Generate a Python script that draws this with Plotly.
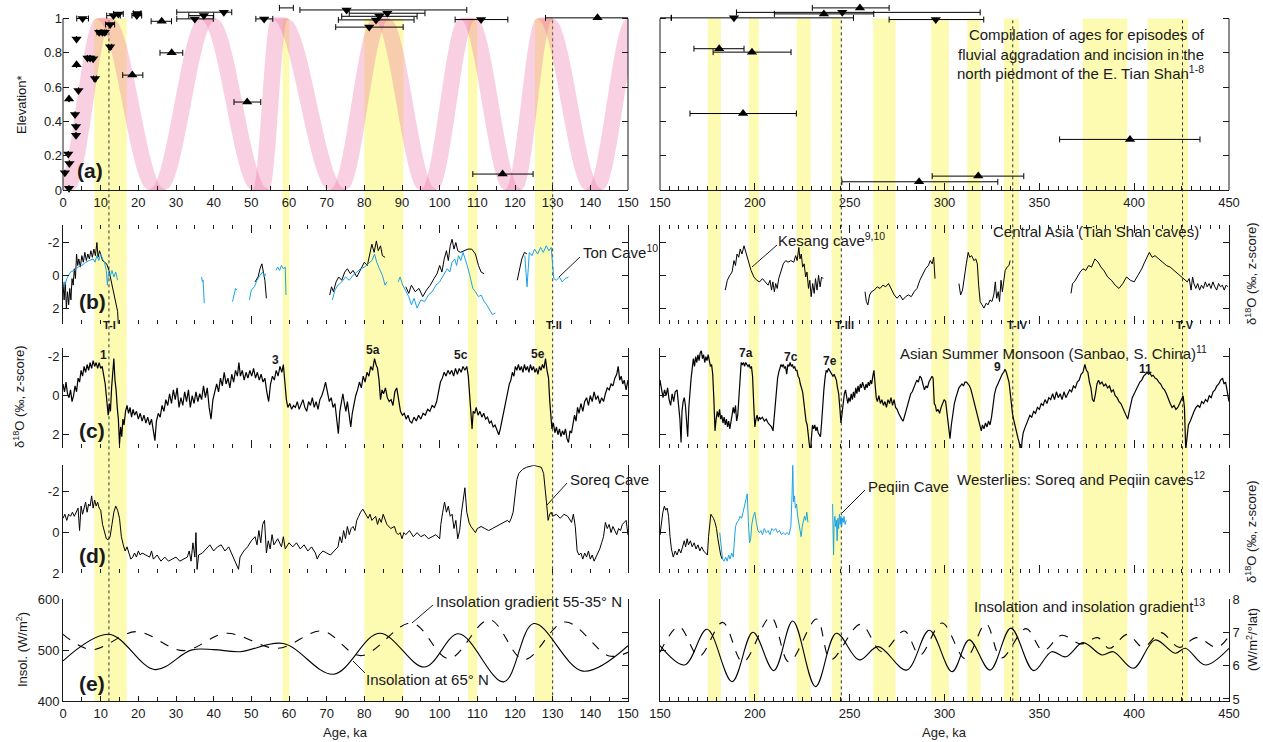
import plotly.graph_objects as go

W, H = 1263, 742
FONT = "Liberation Sans, Arial, Helvetica, sans-serif"
INK = "#1a1a1a"
BLUE = "#1da1e6"
YELLOW = "rgb(253,251,178)"
PINK = "rgba(236,112,165,0.33)"

COL_PX = [(63, 628), (660, 1229)]
ROW_PX = [(3.1, 190.0), (224.5, 323.7), (347.9, 448.0), (465.3, 573.4), (599.0, 701.3)]
X_RANGES = [(0, 150), (150, 450)]
Y_RANGES = [(0, 1.09), (2.95, -3.1), (2.68, -2.45), (2.0, -3.3), (400, 600)]
GRADIENT_RANGE = (4.93, 8)

# ---------------- data ----------------
YELLOW_LEFT = [(8.3, 16.9), (58.3, 60.1), (80.0, 90.4), (107.5, 110.0), (125.3, 130.1)]
YELLOW_RIGHT = [(175.2, 182.1), (196.8, 202.1), (222.0, 229.4), (240.5, 245.6), (262.4, 274.2),
                (293.0, 302.3), (312.0, 319.0), (331.3, 339.3), (372.9, 396.4), (407.0, 428.4)]
TERMINATIONS_LEFT = [12.2, 130.0]
TERMINATIONS_RIGHT = [245.6, 336.0, 425.5]

BAND_TURNING_AGES = [0.5, 11, 25, 38.5, 52.5, 57.5, 73, 84.5, 97, 107.5, 119.5, 128, 141, 152]
BAND_TURNING_ELEV = [0, 1, 0, 1, 0, 1, 0, 1, 0, 1, 0, 1, 0, 1]
BAND_PROFILE = [0, 0.024, 0.095, 0.206, 0.345, 0.5, 0.655, 0.794, 0.905, 0.976, 1.0]
BAND_HALF_WIDTH = 2.2

# (age, elevation, err_minus, err_plus)
AGES_INCISION = [(0.5, 0.10, 0, 0), (1.6, 0.01, 0, 0), (1.4, 0.21, 0, 0), (1.7, 0.155, 0, 0), (3.2, 0.44, 0, 0),
                 (3.45, 0.37, 0, 0), (3.45, 0.32, 0, 0), (4.1, 0.58, 0, 0), (3.6, 0.88, 0, 0), (5.2, 1.0, 1.55, 1.55),
                 (6.5, 0.77, 0, 0), (7.2, 0.77, 0, 0), (8.0, 0.765, 0, 0), (8.5, 0.65, 0.4, 0.4), (9.6, 0.92, 0.6, 0.6),
                 (10.5, 0.92, 0.6, 0.6), (11.1, 0.92, 0.5, 0.5), (12.5, 0.965, 1.2, 1.2), (12.5, 0.835, 0.4, 0.4),
                 (13.4, 1.017, 1.8, 1.8), (14.7, 1.027, 1.3, 1.3), (19.6, 1.017, 1.3, 1.3), (19.7, 1.03, 1.0, 1.0),
                 (35.0, 0.998, 4.8, 4.9), (37.4, 1.017, 4.0, 2.6), (42.7, 1.037, 12.5, 2.1), (53.4, 0.998, 2.2, 2.3),
                 (75.3, 1.05, 12.4, 31.9), (86.1, 1.031, 10.1, 10.0), (84.0, 1.013, 10.0, 10.0), (83.1, 0.992, 10.0, 10.1),
                 (81.3, 0.95, 8.9, 9.0), (111.0, 0.994, 6.9, 7.1), (189.0, 1.004, 33.0, 63.0), (246.1, 1.036, 55.8, 72.7),
                 (295.4, 0.994, 24.6, 25.3)]
AGES_AGGRADATION = [(1.6, 0.53, 0, 0), (3.6, 0.73, 0, 0), (18.4, 0.67, 2.55, 2.8), (26.2, 0.984, 2.8, 2.6),
                    (28.85, 0.80, 3.1, 2.95), (48.9, 0.513, 3.5, 3.6), (116.7, 0.093, 7.9, 8.1), (141.9, 1.004, 13.8, 14.0),
                    (181.2, 0.824, 13.3, 13.1), (198.5, 0.804, 20.5, 20.6), (193.8, 0.446, 28.0, 28.1),
                    (236.4, 1.027, 26.1, 26.3), (255.4, 1.062, 25.1, 15.4), (397.8, 0.295, 37.1, 36.9),
                    (317.8, 0.081, 24.3, 24.0), (286.6, 0.048, 40.7, 41.5)]
AGES_UNMARKED = [(59.3, 1.062, 1.85, 1.85)]

# (b) Tian Shan caves
TIANSHAN_BLACK = [(0.0, 0.5), (0.3, 1.5), (0.6, 0.4), (0.9, 2.0), (1.2, 1.0), (1.5, 1.8), (1.8, 0.8), (2.1, 1.5), (2.4, 0.2),
    (2.7, 0.6), (3.0, -0.4), (3.3, 0.2), (3.6, -1.3), (3.9, -0.6), (4.2, -1.0), (4.6, -0.5), (5.0, -1.2), (5.4, -0.8),
    (5.8, -1.4), (6.2, -0.9), (6.6, -1.3), (7.0, -1.0), (7.4, -1.5), (7.8, -1.1), (8.2, -1.6), (8.6, -1.2), (9.0, -2.0),
    (9.3, -1.1), (9.7, -1.5), (10.1, -1.2), (10.5, -0.9), (11.0, -0.8), (11.6, -0.7), (12.2, -0.3), (12.8, 0.4),
    (13.5, 1.1), (14.2, 1.9), (14.5, 2.2), (14.8, 3.5), None,
    (51.0, 0.4), (51.8, 0.1), (52.3, -0.4), (52.8, -0.7), (53.2, -0.2), (53.6, 0.3), (54.0, 1.4), None,
    (70.8, 1.2), (71.3, 0.7), (71.8, 1.0), (72.5, 0.4), (73.2, 0.1), (74.0, 0.3), (74.8, -0.2), (75.5, -0.4), (76.3, -0.1),
    (77.0, -0.3), (78.0, 0.1), (79.0, -0.4), (80.0, -0.8), (80.8, -0.6), (81.5, -1.3), (82.0, -1.9), (82.6, -1.4),
    (83.2, -2.1), (83.7, -1.5), (84.3, -1.8), (84.8, -1.2), (85.5, -1.1), None,
    (91.0, 0.7), (91.8, 1.1), (92.5, 0.6), (93.5, 1.0), (94.5, 0.8), (95.5, 1.3), (96.5, 0.9), (97.5, 0.6), (98.5, 0.2),
    (99.3, -0.1), (100.0, -0.6), (100.6, -0.2), (101.2, -1.0), (101.8, -1.5), (102.3, -0.9), (102.8, -1.8), (103.3, -2.2),
    (103.8, -1.6), (104.3, -2.0), (104.8, -1.5), (105.5, -1.4), (106.5, -1.5), (107.5, -1.6), (108.5, -1.6), (109.5, -1.3),
    (110.3, -0.6), (111.0, -0.2), (111.8, -0.1), None,
    (120.6, 0.3), (121.2, -0.4), (121.8, -1.0), (122.5, -1.4), (123.2, -1.3), None,
    (184.4, 0.9), (185.5, 0.3), (186.8, 0.0), (188.0, -0.2), (189.0, -0.9), (189.8, -0.6), (190.6, -1.3), (191.5, -1.1),
    (192.3, -1.6), (193.2, -1.3), (194.3, -1.8), (195.2, -1.4), (196.5, -0.8), (198.0, -0.3), (199.5, 0.1), (201.0, 0.3),
    (202.5, 0.4), (204.0, 0.2), (205.5, 0.4), (207.0, 0.6), (208.0, 0.3), (208.8, 0.9), (209.5, 0.4), (210.3, 1.0),
    (211.0, 0.5), (211.8, 0.8), (212.6, 0.2), (213.8, -0.3), (215.0, -0.7), (216.3, -0.9), (217.5, -0.8), (219.0, -0.9),
    (220.5, -0.8), (221.5, -1.2), (222.3, -0.9), (223.2, -1.7), (223.8, -1.0), (224.5, -1.3), (225.2, -0.5), (226.0, -0.7),
    (226.8, 0.1), (227.5, -0.2), (228.3, 0.8), (229.0, 0.3), (229.7, 1.3), (230.5, 0.5), (231.3, 1.1), (232.0, 0.2),
    (232.8, 0.9), (233.6, 0.0), (234.4, 0.7), (235.2, 0.1), (236.0, 0.2), None,
    (258.1, 1.0), (258.8, 1.6), (259.6, 1.8), (260.5, 1.2), (261.5, 1.0), (263.0, 0.9), (264.5, 0.7), (266.0, 0.8),
    (267.5, 0.6), (269.0, 0.7), (270.5, 0.5), (272.0, 0.9), (273.5, 1.2), (275.0, 1.4), (276.5, 1.2), (278.0, 1.5),
    (279.5, 1.3), (281.0, 1.2), (282.5, 1.3), (284.0, 1.0), (285.5, 0.8), (287.0, 0.3), (288.5, -0.1), (290.0, -0.4),
    (291.5, -0.6), (292.5, -0.9), (293.5, -0.7), (294.3, -1.1), (295.0, 0.2), None,
    (307.6, 0.5), (308.5, 1.2), (309.5, 0.9), (310.5, 0.0), (311.5, -0.7), (312.5, -1.4), (313.3, -1.1), (314.3, -1.2),
    (315.5, -0.9), (316.5, -1.0), (317.3, -0.7), (318.0, 0.6), (318.8, 1.6), (319.8, 1.8), (320.8, 2.0), (322.0, 1.7),
    (323.0, 1.8), (324.0, 1.5), (325.0, 1.6), (326.0, 1.2), (326.8, 0.4), (327.5, 1.4), (328.3, 1.0), (329.0, 1.6),
    (329.8, 0.3), (330.5, 1.0), (331.3, 0.1), (332.0, -0.3), (333.0, -0.5), (334.0, -0.6), (334.6, -0.9), None,
    (366.7, 1.1), (367.5, 0.5), (368.5, 0.4), (370.0, 0.1), (371.5, -0.2), (373.0, -0.4), (374.5, -0.3), (376.0, -0.6),
    (377.5, -0.5), (379.3, -1.0), (381.0, -0.8), (382.5, -0.5), (384.0, -0.3), (386.0, 0.1), (388.0, 0.3), (390.0, 0.6),
    (392.0, 0.8), (394.0, 0.5), (396.0, 0.1), (398.0, 0.3), (400.0, 0.4), (402.0, 0.0), (404.0, -0.4), (405.5, -0.8),
    (407.0, -1.2), (408.0, -1.4), (409.5, -1.1), (411.0, -1.2), (413.0, -1.0), (415.0, -0.8), (417.0, -0.6), (419.0, -0.5),
    (421.0, -0.3), (423.0, -0.1), (425.0, 0.1), (426.5, 0.2), (428.0, 0.4), (429.0, 0.2), (430.0, 0.9), (430.8, 0.1),
    (431.5, 0.5), (432.5, 0.8), (433.5, 0.5), (434.5, 0.9), (435.5, 0.6), (436.5, 0.8), (437.5, 0.4), (438.5, 0.7),
    (439.5, 0.5), (440.5, 0.8), (441.5, 0.4), (442.5, 0.7), (443.5, 0.9), (444.5, 0.5), (445.5, 0.7), (446.5, 0.6),
    (447.5, 0.9), (448.5, 0.6), (449.5, 0.7)]
TON_CAVE = [(0.0, 0.4), (0.5, 0.6), (1.0, 0.2), (1.5, 0.0), (2.0, -0.2), (3.0, -0.3), (4.0, -0.5), (5.0, -0.6), (6.0, -0.8),
    (7.0, -0.9), (8.0, -1.0), (8.5, -0.8), (9.0, -1.2), (9.5, -0.9), (10.0, -1.3), (10.5, -1.0), (11.0, -0.8), (11.5, -0.3),
    (11.8, 0.6), (12.1, -0.2), (12.6, 0.0), (13.0, -0.3), (13.5, 0.1), (14.0, -0.2), (14.5, 0.3), None,
    (36.8, 0.1), (37.0, 0.4), (37.2, 0.3), (37.5, 1.7), None,
    (45.0, 1.6), (45.4, 1.1), (45.8, 0.8), (46.2, 0.9), None,
    (49.5, 1.5), (50.0, 0.9), (50.8, 0.7), (51.5, 0.3), (52.3, 0.0), (53.0, -0.2), (53.5, 0.1), (53.8, -0.1), None,
    (56.5, -0.3), (57.0, -0.5), (57.5, -0.3), (58.0, -0.6), (58.5, -0.4), (59.0, -0.5), (59.2, 1.2), None,
    (71.5, 1.5), (72.2, 0.9), (73.0, 0.6), (74.0, 0.4), (75.0, 0.1), (76.0, 0.3), (77.0, 0.0), (78.0, -0.2), (79.0, -0.4),
    (80.0, -0.5), (81.0, -0.7), (82.0, -0.9), (82.7, -1.3), (83.3, -0.8), (84.0, -0.4), (84.8, 0.0), (85.5, 0.6),
    (86.0, 0.4), None,
    (89.0, 0.4), (89.5, 0.1), (90.2, 0.6), (91.0, 1.0), (91.8, 1.3), (92.5, 1.8), (93.2, 1.4), (94.0, 2.0), (95.0, 1.5),
    (96.0, 1.6), (97.0, 1.2), (98.0, 1.0), (99.0, 0.6), (100.0, 0.4), (101.0, 0.0), (102.0, -0.4), (102.7, -0.2),
    (103.3, -0.8), (104.0, -1.0), (104.5, -0.6), (105.0, -1.2), (105.6, -0.9), (106.2, -1.4), (106.8, -1.0), (107.3, -0.6),
    (108.0, 0.0), (108.8, 0.8), (109.5, 1.0), (110.3, 1.3), (111.0, 1.2), (111.8, 1.6), (112.5, 1.8), (113.3, 2.1),
    (114.0, 2.4), (114.8, 2.3), None,
    (122.6, -1.2), (123.2, 0.7), (123.8, -1.4), (124.5, -1.2), (125.2, -1.6), (126.0, -1.3), (126.8, -1.7), (127.5, -1.4),
    (128.3, -1.8), (129.0, -1.5), (129.6, -1.7), (130.0, -0.8), (130.3, 0.2), (131.0, 0.3), (131.8, 0.1), (132.5, 0.4),
    (133.3, 0.2), (134.2, 0.1)]

# (c) Sanbao cave
SANBAO = [(0.0, -0.6), (0.4, -0.2), (0.8, -0.7), (1.2, -0.1), (1.6, 0.1), (2.0, -0.3), (2.4, 0.3), (2.8, 0.0), (3.2, -0.5),
    (3.6, -0.2), (4.0, -0.9), (4.4, -0.7), (4.8, -1.3), (5.2, -1.0), (5.6, -1.5), (6.0, -1.2), (6.4, -1.6), (6.8, -1.3),
    (7.2, -1.7), (7.6, -1.4), (8.0, -1.8), (8.4, -1.5), (8.8, -1.7), (9.2, -1.4), (9.6, -1.7), (10.0, -1.4), (10.4, -1.5),
    (10.8, -1.0), (11.2, -0.6), (11.6, 0.2), (12.0, 1.0), (12.3, 0.4), (12.6, 0.8), (12.9, -0.4), (13.2, -1.0), (13.5, -1.9),
    (13.8, -0.8), (14.1, -0.3), (14.4, 0.6), (14.7, 1.2), (15.0, 2.5), (15.3, 1.6), (15.6, 2.1), (15.9, 1.2), (16.2, 1.5),
    (16.6, 0.8), (17.0, 0.5), (17.4, 0.9), (17.8, 0.6), (18.2, 1.1), (18.6, 0.7), (19.0, 1.0), (19.5, 0.8), (20.0, 1.2),
    (20.5, 0.9), (21.0, 1.3), (21.5, 1.0), (22.0, 1.4), (22.5, 1.1), (23.0, 1.5), (23.5, 1.2), (24.0, 1.7), (24.4, 2.3),
    (24.8, 1.3), (25.3, 0.9), (25.8, 1.1), (26.3, 0.5), (26.8, 0.8), (27.3, 0.2), (27.8, 0.5), (28.3, -0.1), (28.8, 0.4),
    (29.3, -0.3), (29.8, 0.2), (30.3, -0.4), (30.8, 0.6), (31.3, 0.1), (31.8, 0.5), (32.3, -0.2), (32.8, 0.3), (33.3, -0.3),
    (33.8, 0.6), (34.3, 0.0), (34.8, 0.4), (35.3, -0.2), (35.8, 0.3), (36.3, -0.1), (36.8, 0.2), (37.3, -0.5), (37.8, 0.1),
    (38.3, -0.4), (38.8, 0.6), (39.3, 1.2), (39.8, 0.2), (40.3, -0.3), (40.8, -0.6), (41.3, -0.2), (41.8, -0.9), (42.3, -0.5),
    (42.8, -1.2), (43.3, -0.6), (43.8, -0.9), (44.3, -0.4), (44.8, -1.1), (45.3, -0.7), (45.8, -1.3), (46.3, -1.0),
    (46.7, -1.7), (47.1, -1.0), (47.6, -1.3), (48.1, -0.8), (48.6, -1.2), (49.1, -0.9), (49.6, -1.3), (50.1, -1.0),
    (50.6, -1.4), (51.1, -0.9), (51.6, -1.2), (52.1, -0.8), (52.6, -1.1), (53.1, -0.7), (53.6, -0.9), (54.1, -0.2),
    (54.6, 0.3), (55.1, -0.6), (55.6, -1.0), (56.1, -0.8), (56.6, -1.3), (57.1, -1.0), (57.6, -1.5), (58.1, -1.2),
    (58.5, -1.6), (58.9, -0.7), (59.3, 0.2), (59.7, 0.6), (60.2, 0.4), (60.7, 0.7), (61.2, 0.5), (61.7, 0.6), (62.2, 0.3),
    (62.7, 0.7), (63.2, 0.4), (63.7, 0.2), (64.2, 0.6), (64.7, 0.8), (65.2, 0.3), (65.7, 0.5), (66.2, 0.1), (66.7, 0.6),
    (67.2, 0.3), (67.7, 0.7), (68.2, 0.2), (68.7, 0.0), (69.2, -0.3), (69.7, -0.7), (70.2, -0.2), (70.7, 0.3), (71.2, 0.1),
    (71.7, 0.6), (72.2, 0.4), (72.7, 1.2), (73.1, 1.95), (73.5, 0.8), (73.9, 0.3), (74.3, -0.1), (74.7, 0.4), (75.1, 0.8),
    (75.5, 0.3), (76.0, 1.0), (76.4, 1.6), (76.8, 0.9), (77.2, 0.4), (77.7, 0.0), (78.2, -0.3), (78.7, -0.7), (79.2, -0.4),
    (79.7, -1.0), (80.2, -0.7), (80.7, -1.2), (81.2, -1.0), (81.7, -1.5), (82.2, -1.3), (82.7, -1.9), (83.1, -1.6),
    (83.5, -1.4), (83.9, -0.8), (84.3, 0.2), (84.7, -0.3), (85.1, -0.1), (85.6, -0.4), (86.1, 0.1), (86.6, 0.3), (87.1, 0.2),
    (87.6, 0.5), (88.1, -0.2), (88.6, -0.4), (89.1, 0.2), (89.6, 0.8), (90.1, 1.0), (90.6, 0.9), (91.1, 1.2), (91.6, 1.0),
    (92.1, 1.3), (92.6, 1.4), (93.2, 1.1), (93.8, 1.3), (94.4, 1.0), (95.0, 1.2), (95.6, 0.9), (96.2, 1.0), (96.8, 0.7),
    (97.4, 0.8), (98.0, 0.5), (98.6, 0.6), (99.2, 0.3), (99.7, -0.2), (100.2, -0.7), (100.7, -0.9), (101.2, -1.2),
    (101.7, -1.0), (102.2, -1.3), (102.7, -1.1), (103.2, -1.3), (103.7, -1.0), (104.2, -1.4), (104.7, -1.1), (105.2, -1.4),
    (105.7, -1.2), (106.2, -1.5), (106.7, -1.3), (107.2, -1.5), (107.6, -1.0), (108.0, 0.3), (108.3, 0.7), (108.6, 1.7),
    (108.9, 0.8), (109.3, 0.9), (109.7, 0.6), (110.2, 1.0), (110.7, 0.8), (111.2, 1.1), (111.7, 0.9), (112.2, 1.2),
    (112.7, 1.1), (113.2, 1.4), (113.7, 1.3), (114.2, 1.6), (114.7, 1.5), (115.2, 1.8), (115.7, 2.0), (116.1, 1.7),
    (116.5, 1.3), (116.9, 1.0), (117.3, 0.5), (117.7, 0.1), (118.1, -0.2), (118.5, -0.6), (118.9, -0.8), (119.3, -1.2),
    (119.7, -1.0), (120.1, -1.5), (120.5, -1.3), (120.9, -1.6), (121.3, -1.3), (121.7, -1.5), (122.1, -1.2), (122.5, -1.6),
    (122.9, -1.3), (123.3, -1.5), (123.7, -1.2), (124.1, -1.6), (124.5, -1.3), (124.9, -1.5), (125.3, -1.2), (125.7, -1.4),
    (126.1, -1.1), (126.5, -1.5), (126.9, -1.3), (127.3, -1.6), (127.7, -1.4), (128.1, -1.9), (128.5, -1.3), (128.9, -0.9),
    (129.2, 0.2), (129.5, 1.3), (129.8, 1.7), (130.2, 1.4), (130.6, 1.9), (131.0, 1.6), (131.4, 2.0), (131.8, 1.7),
    (132.2, 2.1), (132.6, 1.8), (133.0, 2.0), (133.4, 1.7), (133.8, 2.2), (134.2, 2.4), (134.6, 1.8), (135.0, 1.9),
    (135.4, 1.3), (135.8, 1.0), (136.2, 1.3), (136.6, 0.6), (137.0, 0.9), (137.5, 0.4), (138.0, 0.8), (138.5, 0.3),
    (139.0, 0.1), (139.5, 0.5), (140.0, 0.0), (140.5, 0.3), (141.0, -0.2), (141.5, 0.2), (142.0, 0.0), (142.5, 0.4),
    (143.0, 0.1), (143.5, 0.3), (144.0, -0.1), (144.5, -0.4), (145.0, -0.3), (145.5, -0.6), (146.0, -0.5), (146.5, -0.9),
    (147.0, -1.1), (147.4, -1.5), (147.8, -0.8), (148.2, -1.0), (148.6, -0.6), (149.0, -0.8), (149.5, -0.3), (150.0, -0.8),
    (150.8, -0.2), (151.6, 0.1), (152.4, -0.3), (153.2, 0.0), (154.0, -0.4), (154.8, 0.2), (155.6, 0.5), (156.4, -0.1),
    (157.2, 0.3), (158.0, -0.2), (159.0, -0.3), (159.8, 0.6), (160.5, 1.2), (161.1, 2.4), (161.6, 0.8), (162.2, 0.3),
    (162.8, 0.1), (163.4, 0.5), (164.0, 1.3), (164.6, 2.1), (165.2, 0.6), (165.8, -0.4), (166.4, -0.9), (167.0, -1.4),
    (167.6, -1.9), (168.2, -1.5), (168.8, -2.0), (169.4, -1.7), (170.0, -2.1), (170.6, -1.8), (171.2, -2.2), (171.8, -2.3),
    (172.4, -1.9), (173.0, -2.1), (173.6, -1.7), (174.2, -2.0), (174.8, -1.8), (175.4, -2.1), (176.0, -1.7), (176.6, -1.5),
    (177.2, -1.6), (177.8, -1.1), (178.4, 0.2), (179.0, 1.8), (179.6, 1.2), (180.2, 0.8), (180.8, 1.1), (181.4, 0.7),
    (182.0, 1.2), (182.6, 1.0), (183.2, 1.4), (183.8, 1.1), (184.4, 1.5), (185.0, 1.2), (185.6, 1.6), (186.2, 1.3),
    (186.8, 1.7), (187.4, 1.4), (188.0, 1.0), (188.6, 0.6), (189.2, 0.9), (189.8, 0.5), (190.4, 1.3), (191.0, 1.0),
    (191.6, 0.2), (192.2, -1.0), (192.8, -1.7), (193.4, -1.6), (194.0, -1.7), (194.6, -1.5), (195.2, -1.7), (195.8, -1.6),
    (196.4, -1.5), (197.0, -1.6), (197.6, -1.4), (198.2, -1.5), (198.8, -1.0), (199.4, 0.4), (200.0, 1.6), (200.6, 1.2),
    (201.2, 1.0), (201.8, 1.3), (202.4, 1.1), (203.0, 1.2), (204.0, 1.1), (205.0, 1.3), (206.0, 1.2), (207.0, 1.4),
    (208.0, 1.5), (208.8, 1.6), (209.6, 1.8), (210.2, 1.0), (210.8, 0.2), (211.4, -0.4), (212.0, -0.9), (212.6, -1.2),
    (213.2, -1.5), (213.8, -1.6), (214.4, -1.5), (215.0, -1.6), (215.6, -1.4), (216.2, -1.5), (216.8, -1.1), (217.4, -1.6),
    (218.0, -1.5), (218.6, -1.7), (219.2, -1.5), (219.8, -1.6), (220.4, -1.4), (221.0, -1.5), (221.6, -1.3), (222.2, -1.3),
    (222.8, -1.0), (223.4, -0.9), (224.0, -0.6), (224.6, -0.4), (225.2, -0.2), (225.8, 0.3), (226.4, 0.9), (227.0, 1.3),
    (227.6, 1.5), (228.2, 2.0), (228.8, 2.7), (229.3, 3.0), (229.8, 2.2), (230.4, 1.5), (231.0, 1.7), (231.6, 1.5),
    (232.2, 1.8), (232.8, 1.6), (233.4, 1.9), (234.0, 2.0), (234.6, 2.1), (235.2, 1.4), (235.8, 0.4), (236.4, -0.3),
    (237.0, -0.9), (237.6, -1.3), (238.2, -1.2), (238.8, -1.4), (239.4, -1.3), (240.0, -1.2), (240.6, -1.1), (241.2, -1.0),
    (241.8, -1.1), (242.4, -0.9), (243.0, -0.8), (243.6, -0.4), (244.2, -0.1), (244.8, 0.6), (245.4, 1.4), (246.0, 0.9),
    (246.6, 0.2), (247.2, -0.1), (247.8, -0.3), (248.4, 0.2), (249.0, 0.4), (249.6, 0.1), (250.2, 0.3), (250.8, -0.1),
    (251.4, 0.2), (252.0, -0.2), (252.6, 0.1), (253.2, -0.4), (253.8, -0.1), (254.4, -0.5), (255.0, -0.2), (255.6, -0.6),
    (256.2, -0.4), (256.8, -0.7), (257.4, -0.5), (258.0, -0.3), (258.6, -0.6), (259.2, -0.4), (259.8, -0.7), (260.4, -0.5),
    (261.0, -0.8), (261.6, -0.6), (262.2, -1.0), (262.8, -1.3), (263.4, -0.6), (264.0, 0.1), (264.6, 0.3), (265.4, 0.0),
    (266.2, 0.4), (267.0, 0.2), (267.8, 0.5), (268.6, 0.3), (269.4, 0.6), (270.2, 0.2), (271.0, 0.4), (271.8, 0.1),
    (272.6, 0.5), (273.4, 0.2), (274.2, 0.6), (275.0, 0.7), (275.8, 0.9), (276.6, 1.1), (277.4, 1.2), (278.2, 1.3),
    (279.0, 1.0), (279.8, 0.7), (280.6, 0.5), (281.4, 0.2), (282.2, -0.1), (283.0, -0.2), (283.8, -0.4), (284.6, -0.6),
    (285.4, -0.8), (286.2, -0.7), (287.0, -1.0), (287.8, -0.9), (288.6, -0.6), (289.4, -0.3), (290.2, -0.5), (291.0, -0.4),
    (291.8, -0.7), (292.6, -0.9), (293.4, -1.0), (294.0, -0.9), (294.6, 0.4), (295.2, 0.5), (295.8, 0.8), (296.6, 0.7),
    (297.4, 0.9), (298.2, 0.6), (299.0, 0.4), (299.8, 0.2), (300.6, 0.3), (301.4, 0.9), (302.2, 1.6), (302.9, 2.2),
    (303.6, 1.5), (304.4, 0.8), (305.2, 0.4), (306.0, 0.1), (306.8, -0.2), (307.6, -0.4), (308.4, -0.5), (309.2, -0.6),
    (310.0, -0.5), (310.8, -0.7), (311.6, -0.7), (312.4, -0.6), (313.2, -0.5), (314.0, -0.3), (314.8, 0.0), (315.6, 0.3),
    (316.4, 0.6), (317.2, 0.9), (318.0, 1.3), (318.8, 1.6), (319.4, 1.8), (320.0, 1.5), (320.8, 1.7), (321.6, 1.4),
    (322.4, 1.6), (323.2, 1.3), (324.0, 1.5), (324.8, 1.1), (325.6, 0.5), (326.4, -0.1), (327.2, -0.4), (328.0, -0.6),
    (328.8, -0.8), (329.6, -0.9), (330.4, -1.1), (331.2, -1.2), (331.9, -1.35), (332.6, -1.2), (333.3, -1.0), (334.0, -0.7),
    (334.6, -0.2), (335.2, 0.6), (335.8, 0.9), (336.4, 1.2), (337.0, 1.5), (337.6, 1.7), (338.2, 2.0), (338.8, 2.2),
    (339.4, 2.4), (340.0, 2.8), (340.4, 3.0), (340.9, 2.3), (341.5, 1.9), (342.2, 1.7), (343.0, 1.5), (344.0, 1.2),
    (345.0, 1.0), (346.0, 1.1), (347.0, 0.8), (348.0, 0.9), (349.0, 0.6), (350.0, 0.7), (351.0, 0.4), (352.0, 0.5),
    (353.0, 0.2), (354.0, 0.4), (355.0, 0.1), (356.0, 0.2), (357.0, -0.1), (358.0, 0.2), (359.0, -0.2), (360.0, 0.1),
    (361.0, -0.1), (362.0, 0.2), (363.0, -0.2), (364.0, 0.1), (365.0, -0.1), (366.0, -0.3), (367.0, -0.2), (368.0, -0.5),
    (369.0, -0.4), (370.0, -0.7), (371.0, -0.8), (372.0, -1.1), (373.0, -1.2), (374.0, -1.6), (374.8, -1.3), (375.6, -1.2),
    (376.4, -0.7), (377.2, -0.4), (378.0, 0.2), (378.8, 0.3), (379.6, -0.1), (380.4, -0.6), (381.2, -0.8), (382.0, -0.6),
    (383.0, -0.7), (384.0, -0.5), (385.0, -0.6), (386.0, -0.4), (387.0, -0.5), (388.0, -0.2), (389.0, -0.3), (390.0, 0.0),
    (391.0, 0.1), (392.0, 0.3), (393.0, 0.4), (394.0, 0.6), (395.0, 0.8), (396.0, 1.0), (396.6, 1.2), (397.4, 0.8),
    (398.2, 0.4), (399.0, 0.1), (400.0, -0.1), (401.0, -0.3), (402.0, -0.5), (403.0, -0.7), (404.0, -0.8), (405.0, -1.0),
    (406.0, -1.1), (406.8, -1.2), (407.6, -1.1), (408.4, -1.15), (409.2, -1.0), (410.0, -1.05), (411.0, -0.9),
    (412.0, -0.85), (413.0, -0.7), (414.0, -0.6), (415.0, -0.4), (416.0, -0.3), (417.0, -0.1), (418.0, 0.2), (419.0, 0.4),
    (420.0, 0.6), (421.0, 0.5), (422.0, 0.7), (423.0, 0.6), (424.0, 0.4), (425.0, 0.2), (425.8, 0.0), (426.5, 0.6),
    (427.2, 2.8), (427.8, 2.2), (428.6, 1.5), (429.6, 1.3), (430.6, 1.0), (431.6, 0.8), (432.6, 0.6), (433.6, 0.5),
    (434.6, 0.6), (435.6, 0.3), (436.6, 0.4), (437.6, 0.2), (438.6, 0.3), (439.6, 0.0), (440.6, 0.1), (441.6, -0.2),
    (442.6, -0.3), (443.6, -0.5), (444.6, -0.6), (445.6, -0.8), (446.6, -0.9), (447.4, -0.6), (448.2, -0.7), (449.0, -0.3),
    (450.0, 0.3)]

# (d) Soreq and Peqiin caves
SOREQ = [(0.0, -0.7), (0.5, -0.9), (1.0, -0.6), (1.5, -0.9), (2.0, -0.8), (2.5, -1.0), (3.0, -0.8), (3.5, -1.0), (4.0, -1.2),
    (4.4, -0.1), (4.8, -1.3), (5.2, -0.9), (5.6, -1.2), (6.0, -1.5), (6.4, -1.0), (6.8, -1.4), (7.2, -1.3), (7.6, -1.8),
    (8.0, -1.2), (8.4, -1.6), (8.8, -1.3), (9.2, -1.5), (9.6, -1.2), (10.0, -1.1), (10.5, -0.4), (11.0, -0.1), (11.5, 0.3),
    (12.0, 0.35), (12.5, 0.2), (13.0, -0.4), (13.5, -1.0), (14.0, -1.3), (14.5, -1.1), (15.0, -0.7), (15.5, 0.2), (16.0, 0.6),
    (16.5, 0.9), (17.0, 0.7), (17.5, 1.0), (18.0, 1.3), (18.5, 1.2), (19.0, 1.0), (19.5, 1.2), (20.0, 0.9), (20.5, 1.1),
    (21.0, 1.0), (22.0, 1.1), (23.0, 1.2), (23.5, 0.9), (24.0, 1.3), (25.0, 1.1), (26.0, 1.4), (27.0, 1.2), (28.0, 1.4),
    (29.0, 1.3), (30.0, 1.2), (31.0, 1.4), (32.0, 1.3), (33.0, 1.2), (33.5, 0.9), (34.0, 1.4), (34.5, 0.5), (35.0, 1.2),
    (35.3, 0.0), (35.6, 1.8), (36.0, 1.1), (37.0, 1.0), (38.0, 0.8), (39.0, 0.6), (40.0, 0.9), (41.0, 0.7), (42.0, 0.6),
    (43.0, 0.9), (44.0, 0.7), (45.0, 1.1), (46.0, 1.5), (46.6, 1.8), (47.0, 1.2), (48.0, 0.9), (49.0, 0.7), (50.0, 0.4),
    (51.0, 0.2), (51.5, 0.6), (52.0, -0.1), (52.5, 0.5), (53.0, -0.4), (53.5, -0.6), (54.0, 1.0), (54.5, 0.4), (55.0, 0.8),
    (55.5, 0.1), (56.0, 0.6), (57.0, 0.3), (58.0, 0.7), (58.5, 0.2), (59.0, 0.8), (60.0, 0.5), (61.0, 0.7), (62.0, 0.5),
    (63.0, 0.8), (64.0, 0.6), (65.0, 0.9), (66.0, 0.7), (67.0, 1.0), (67.5, 1.3), (68.0, 1.1), (69.0, 0.9), (70.0, 1.0),
    (71.0, 1.1), (72.0, 0.9), (73.0, 0.7), (73.5, 0.2), (74.0, 0.5), (74.5, -0.1), (75.0, 0.3), (75.5, -0.3), (76.0, 0.1),
    (76.5, -0.2), (77.0, -0.3), (77.5, -0.1), (78.0, -0.6), (78.5, -0.8), (79.0, -1.0), (79.6, -1.15), (80.3, -0.9),
    (81.0, -0.7), (81.5, -0.9), (82.0, -0.6), (83.0, -0.8), (83.5, -0.4), (84.0, -0.7), (84.5, -0.5), (85.0, -0.9),
    (85.5, -0.6), (86.0, -0.4), (87.0, -0.2), (88.0, -0.3), (88.5, 0.0), (89.0, 0.1), (89.5, 0.0), (90.0, 0.3), (90.5, 0.0),
    (91.0, 0.1), (92.0, -0.1), (93.0, 0.2), (94.0, 0.0), (95.0, 0.2), (96.0, 0.1), (97.0, 0.3), (98.0, 0.2), (99.0, 0.1),
    (100.0, 0.3), (100.3, -0.4), (100.8, -1.0), (101.3, -1.5), (101.8, -1.0), (102.3, -1.3), (102.8, -0.8), (103.3, -0.9),
    (103.8, -0.2), (104.3, -0.6), (104.8, 0.3), (105.3, -0.1), (105.8, -1.0), (106.3, -1.6), (106.7, -2.2), (107.2, -1.0),
    (107.8, -0.5), (108.3, -0.3), (109.0, -0.1), (109.5, 0.0), (110.0, -0.2), (111.0, -0.3), (112.0, -0.2), (113.0, -0.1),
    (114.0, -0.2), (115.0, -0.3), (116.0, -0.4), (117.0, -0.5), (118.0, -0.6), (118.5, -0.5), (119.0, -0.7), (119.5, -1.0),
    (120.0, -1.8), (120.5, -2.6), (121.0, -2.9), (122.0, -3.1), (123.0, -3.2), (124.0, -3.25), (125.0, -3.3), (126.0, -3.25),
    (127.0, -3.2), (127.6, -2.9), (128.0, -2.3), (128.4, -1.4), (128.8, -0.6), (129.2, -0.9), (129.6, -1.0), (130.0, -0.8),
    (131.0, -0.9), (132.0, -0.7), (133.0, -0.9), (134.0, -0.8), (135.0, -0.5), (135.5, -0.9), (136.0, -0.3), (136.5, 0.9),
    (137.0, 1.1), (137.5, 1.0), (138.0, 1.3), (138.5, 1.0), (139.0, 1.2), (139.5, 0.9), (140.0, 1.3), (140.5, 1.1),
    (141.0, 1.4), (141.5, 1.2), (142.0, 1.0), (142.5, 0.8), (143.0, 0.5), (143.5, 0.2), (144.0, -0.5), (144.5, -0.2),
    (145.0, -0.4), (145.5, 0.0), (146.0, -0.3), (146.5, -0.1), (147.0, 0.1), (147.5, -0.2), (148.0, -0.1), (148.5, -0.4),
    (149.0, -0.5), (149.5, -0.6), (150.0, 0.1), (150.8, -0.6), (151.5, -1.0), (152.3, -1.3), (153.0, -1.1), (153.8, -1.2),
    (154.5, -0.8), (155.3, 0.2), (156.0, 0.8), (157.0, 1.2), (158.0, 0.9), (159.0, 1.1), (160.0, 0.8), (161.0, 1.0),
    (162.0, 0.6), (162.8, 0.4), (163.5, 0.7), (164.3, 0.3), (165.0, 0.6), (166.0, 0.4), (167.0, 0.7), (168.0, 0.5),
    (169.0, 0.8), (170.0, 0.6), (171.0, 0.9), (172.0, 0.7), (173.0, 0.9), (174.0, 1.0), (175.0, 1.1), (175.6, 0.2),
    (176.2, -0.6), (176.8, -0.9), (177.5, -0.8), (178.2, -0.7), (179.0, -0.5), (179.8, -0.2), (180.5, 0.3), (181.2, 0.8),
    (182.0, 1.1), (182.8, 1.3)]
PEQIIN = [(181.5, 0.0), (182.2, 0.6), (183.0, 1.3), (183.8, 1.4), (184.6, 1.2), (185.4, 1.4), (186.2, 1.1), (187.0, 1.3),
    (187.8, 1.0), (188.6, 1.2), (189.2, 0.2), (189.8, -0.3), (190.6, -0.5), (191.4, -0.6), (192.2, -0.8), (193.0, -0.7),
    (193.8, -1.0), (194.6, -1.3), (195.4, -1.7), (196.0, -1.9), (196.6, -0.5), (197.2, 0.5), (197.8, 0.3), (198.4, -0.4),
    (199.2, -0.8), (200.0, -1.0), (200.8, -0.5), (201.6, -0.1), (202.4, 0.0), (203.2, -0.1), (204.0, 0.1), (205.0, -0.2),
    (206.0, 0.0), (207.0, -0.1), (208.0, 0.1), (209.0, -0.2), (210.0, -0.1), (211.0, -0.2), (212.0, 0.0), (213.0, -0.1),
    (214.0, 0.1), (215.0, 0.0), (216.0, 0.1), (217.0, 0.0), (218.0, 0.1), (219.0, -0.3), (219.6, -1.8), (220.0, -3.3),
    (220.4, -1.5), (220.9, -1.8), (221.4, -1.2), (222.0, -1.4), (222.6, -0.8), (223.2, -0.4), (223.8, 0.0), (224.4, 0.2),
    (225.0, -0.3), (225.6, -0.5), (226.2, -0.8), (226.8, -0.6), (227.4, -1.0), (228.0, -0.5), None,
    (241.0, -1.4), (241.3, 0.0), (241.5, 1.1), (241.8, -0.5), (242.2, -0.8), (242.6, -0.3), (243.0, -0.6), (243.4, 0.4),
    (243.8, -0.7), (244.2, -0.2), (244.6, -0.9), (245.0, -0.4), (245.4, -0.8), (245.8, -0.3), (246.2, -0.7), (246.6, -0.5),
    (247.0, -0.8), (247.6, -0.4), (248.2, -0.6)]

# (e) insolation (W/m2) and insolation gradient (W/m2/deg lat), turning points
INSOL_65N = [(0, 479), (12.2, 531), (24.4, 462), (34, 500), (40, 501), (47, 497), (58.5, 513), (71.8, 453), (84, 533),
    (96, 467), (105, 532), (117, 438), (125, 552), (138, 459), (150, 508.7), (163, 471), (174.8, 541), (188, 438.5),
    (199, 535), (210, 460), (220, 557), (232, 428.7), (243, 533), (255, 481), (265, 506.8), (280, 461), (292, 539),
    (304, 458), (313, 520), (324, 461), (335, 543), (347, 460), (356.5, 497), (364, 487), (373, 514.7), (383, 490.6),
    (389, 497), (399.6, 464.6), (411, 520), (421.6, 494), (427, 503.6), (437.4, 471), (450, 503.6)]
INSOL_GRADIENT = [(0, 6.94), (7.6, 6.48), (19.5, 7.02), (32, 6.45), (43.3, 6.97), (57, 6.52), (68.8, 7.04), (79, 6.30),
    (92.6, 7.28), (102.4, 6.21), (113.2, 7.38), (122.4, 6.18), (133.3, 7.31), (145, 6.29), (150, 6.40), (160, 7.17),
    (170.6, 6.28), (183, 7.30), (193.7, 6.11), (208.4, 7.46), (218, 6.11), (232.6, 7.40), (240, 6.18), (255.7, 7.24),
    (267, 6.42), (278.8, 7.04), (287, 6.32), (298.7, 7.28), (311, 6.21), (321.8, 7.26), (330, 6.23), (343, 7.11),
    (352, 6.45), (361.8, 6.91), (372, 6.65), (380.7, 6.84), (387, 6.52), (396.4, 6.94), (404.8, 6.55), (414, 6.99),
    (423.7, 6.55), (433, 6.84), (443.7, 6.55), (450, 6.89)]

# ---------------- helpers ----------------
def sfx(i):
    return '' if i == 1 else str(i)


def pxx(x):
    return x / W


def pyy(y):
    return 1 - y / H


def split_xy(pairs, lo, hi):
    xs, ys = [], []
    for p in pairs:
        if p is None or not (lo - 1.0 <= p[0] <= hi + 1.0):
            if xs and xs[-1] is not None:
                xs.append(None)
                ys.append(None)
            continue
        xs.append(p[0])
        ys.append(p[1])
    return xs, ys


fig = go.Figure()


def line_trace(pairs, col, row, color, width=1.0, dash=None, shape='linear', yaxis=None):
    i = row * 2 + col + 1
    xs, ys = split_xy(pairs, *X_RANGES[col])
    fig.add_trace(go.Scatter(x=xs, y=ys, mode='lines', line=dict(color=color, width=width, dash=dash, shape=shape),
                             xaxis='x' + sfx(i), yaxis=yaxis or ('y' + sfx(i)), hoverinfo='skip', connectgaps=False))


def point_trace(pts, symbol, col, clip, visible_marker=True):
    if not pts:
        return
    i = col + 1
    fig.add_trace(go.Scatter(
        x=[p[0] for p in pts], y=[p[1] for p in pts], mode='markers',
        marker=dict(symbol=symbol, size=9, color='black', opacity=1 if visible_marker else 0),
        error_x=dict(type='data', symmetric=False, array=[p[3] for p in pts], arrayminus=[p[2] for p in pts],
                     thickness=1, width=3, color='black'),
        cliponaxis=clip, xaxis='x' + sfx(i), yaxis='y' + sfx(i), hoverinfo='skip'))


# pink schematic bands (panel a, left)
for k in range(len(BAND_TURNING_AGES) - 1):
    a0, a1 = BAND_TURNING_AGES[k], BAND_TURNING_AGES[k + 1]
    rising = BAND_TURNING_ELEV[k + 1] > BAND_TURNING_ELEV[k]
    n = len(BAND_PROFILE) - 1
    ages = [a0 + (a1 - a0) * j / n for j in range(n + 1)]
    elev = [f if rising else 1 - f for f in BAND_PROFILE]
    xs = [a - BAND_HALF_WIDTH for a in ages] + [a + BAND_HALF_WIDTH for a in ages[::-1]]
    ys = elev + elev[::-1]
    fig.add_trace(go.Scatter(x=xs, y=ys, mode='lines', fill='toself', fillcolor=PINK, line=dict(width=0, shape='spline'),
                             xaxis='x', yaxis='y', hoverinfo='skip'))

# panel a points
for pts, sym in ((AGES_INCISION, 'triangle-down'), (AGES_AGGRADATION, 'triangle-up'), (AGES_UNMARKED, 'triangle-up')):
    vis = pts is not AGES_UNMARKED
    inside = [p for p in pts if p[0] - p[2] >= 0 and p[0] + p[3] <= 150]
    cross = [p for p in pts if p[0] <= 150 and p not in inside]
    right = [p for p in pts if p[0] + p[3] >= 150]
    point_trace(inside, sym, 0, False, vis)
    point_trace(cross, sym, 0, True, vis)
    point_trace(right, sym, 1, True, vis)

for col in (0, 1):
    line_trace(TIANSHAN_BLACK, col, 1, 'black', 1.0)
    line_trace(TON_CAVE, col, 1, BLUE, 1.0)
    line_trace(SANBAO, col, 2, 'black', 1.2)
    line_trace(SOREQ, col, 3, 'black', 1.0)
    line_trace(PEQIIN, col, 3, BLUE, 1.0)
    line_trace(INSOL_65N, col, 4, 'black', 1.1, shape='spline')
    line_trace(INSOL_GRADIENT, col, 4, 'black', 1.1, dash='dash', shape='spline', yaxis='y' + str(11 + col))

# ---------------- axes ----------------
layout = dict(width=W, height=H, margin=dict(l=0, r=0, t=0, b=0, pad=0, autoexpand=False), paper_bgcolor='white',
              plot_bgcolor='rgba(0,0,0,0)', showlegend=False,
              font=dict(family=FONT, size=13, color=INK))
for r in range(5):
    for c in range(2):
        i = r * 2 + c + 1
        labeled = r in (0, 4)
        major = 10 if c == 0 else 50
        if not labeled:
            major = 50
        xa = dict(domain=[pxx(COL_PX[c][0]), pxx(COL_PX[c][1])], range=list(X_RANGES[c]), anchor='y' + sfx(i),
                  showgrid=False, zeroline=False, ticks='inside', ticklen=(5 if c == 0 else 7) if labeled else 8,
                  tickwidth=1, tickcolor=INK, tick0=0, dtick=major, automargin=False,
                  minor=dict(dtick=5, tick0=0, ticks='inside', ticklen=4, tickcolor=INK, tickwidth=1, showgrid=False),
                  showline=labeled, linecolor=INK, linewidth=1, showticklabels=labeled,
                  tickfont=dict(size=13, color=INK), mirror='ticks' if r == 1 else False, fixedrange=True)
        ya = dict(domain=[pyy(ROW_PX[r][1]), pyy(ROW_PX[r][0])], range=list(Y_RANGES[r]), anchor='x' + sfx(i),
                  showgrid=False, zeroline=False, ticks='inside', ticklen=6, tickwidth=1, tickcolor=INK,
                  showline=True, linecolor=INK, linewidth=1, mirror='ticks', showticklabels=(c == 0),
                  tickfont=dict(size=13, color=INK), fixedrange=True, automargin=False)
        if r == 0:
            ya.update(tickvals=[0, 0.2, 0.4, 0.6, 0.8, 1], ticktext=['0', '0.2', '0.4', '0.6', '0.8', '1'], showline=False)
        elif r < 4:
            ya.update(tickvals=[-2, 0, 2], ticktext=['-2', '0', '2'])
        else:
            ya.update(tickvals=[400, 500, 600], mirror=False)
        layout['xaxis' + sfx(i)] = xa
        layout['yaxis' + sfx(i)] = ya
for c in (0, 1):
    base = 9 + c
    layout['yaxis' + str(11 + c)] = dict(overlaying='y' + str(base), anchor='x' + str(base), side='right',
                                         range=list(GRADIENT_RANGE), tickvals=[5, 6, 7, 8], ticks='inside', ticklen=6,
                                         tickcolor=INK, showline=True, linecolor=INK, linewidth=1, showgrid=False,
                                         zeroline=False, showticklabels=(c == 1), tickfont=dict(size=13, color=INK),
                                         fixedrange=True, automargin=False)
fig.update_layout(**layout)

# ---------------- shapes ----------------
shapes = []
top_px, bot_px = 18.5, 701.3
for (a, b) in YELLOW_LEFT:
    shapes.append(dict(type='rect', xref='x', yref='paper', x0=a, x1=b, y0=pyy(bot_px), y1=pyy(top_px),
                       fillcolor=YELLOW, line=dict(width=0), layer='below'))
for (a, b) in YELLOW_RIGHT:
    shapes.append(dict(type='rect', xref='x2', yref='paper', x0=a, x1=b, y0=pyy(bot_px), y1=pyy(top_px),
                       fillcolor=YELLOW, line=dict(width=0), layer='below'))
for a in TERMINATIONS_LEFT:
    shapes.append(dict(type='line', xref='x', yref='paper', x0=a, x1=a, y0=pyy(bot_px), y1=pyy(top_px),
                       line=dict(color='#333', width=1, dash='dot'), layer='below'))
for a in TERMINATIONS_RIGHT:
    shapes.append(dict(type='line', xref='x2', yref='paper', x0=a, x1=a, y0=pyy(bot_px), y1=pyy(top_px),
                       line=dict(color='#333', width=1, dash='dot'), layer='below'))
for ax, ay in (('x', 'y'), ('x2', 'y2')):
    for xv in (0, 1):
        shapes.append(dict(type='line', xref=ax + ' domain', yref=ay, x0=xv, x1=xv, y0=0, y1=1,
                           line=dict(color=INK, width=1)))
LEADERS = [((559, 277), (580, 257)), ((752, 267), (777, 245)), ((547, 505), (567, 483)),
           ((842, 513), (865, 490)), ((412, 623), (433, 605)), ((353, 661), (365, 673))]
for (x0, y0), (x1, y1) in LEADERS:
    shapes.append(dict(type='line', xref='paper', yref='paper', x0=pxx(x0), y0=pyy(y0), x1=pxx(x1), y1=pyy(y1),
                       line=dict(color=INK, width=1)))
fig.update_layout(shapes=shapes)

# ---------------- text ----------------
def label(text, x, y, xanchor='center', size=15, bold=False, angle=0, align='left'):
    return dict(text=f"<b>{text}</b>" if bold else text, x=pxx(x), y=pyy(y), xref='paper', yref='paper',
                xanchor=xanchor, yanchor='middle', showarrow=False, align=align, textangle=angle,
                font=dict(size=size, color=INK, family=FONT))


ann = [
    label('(a)', 90, 170, size=21, bold=True), label('(b)', 92, 301, size=21, bold=True),
    label('(c)', 92, 430, size=21, bold=True), label('(d)', 92, 555, size=21, bold=True),
    label('(e)', 92, 683, size=21, bold=True),
    label('Compilation of ages for episodes of<br>fluvial aggradation and incision in the<br>'
          'north piedmont of the E. Tian Shan<sup>1-8</sup>', 1207, 54, xanchor='right', align='right'),
    label('Central Asia (Tian Shan caves)', 1201, 231, xanchor='right'),
    label('Ton Cave<sup>10</sup>', 581, 252, xanchor='left'),
    label('Kesang cave<sup>9,10</sup>', 776, 240, xanchor='left'),
    label('Asian Summer Monsoon (Sanbao, S. China)<sup>11</sup>', 1209, 352, xanchor='right'),
    label('Soreq Cave', 568, 479, xanchor='left'),
    label('Peqiin Cave', 866, 486, xanchor='left'),
    label('Westerlies: Soreq and Peqiin caves<sup>12</sup>', 1207, 478, xanchor='right'),
    label('Insolation gradient 55-35° N', 434, 601, xanchor='left'),
    label('Insolation at 65° N', 364, 679, xanchor='left'),
    label('Insolation and insolation gradient<sup>13</sup>', 1207, 605, xanchor='right'),
    label('Elevation*', 22, 105, size=13, angle=-90),
    label('δ<sup>18</sup>O (‰, z-score)', 19, 397, size=13, angle=-90),
    label('Insol. (W/m<sup>2</sup>)', 22, 650, size=13, angle=-90),
    label('δ<sup>18</sup>O (‰, z-score)', 1251, 274, size=13, angle=-90),
    label('δ<sup>18</sup>O (‰, z-score)', 1251, 532, size=13, angle=-90),
    label('(W/m<sup>2</sup>/°lat)', 1252, 640, size=13, angle=-90),
    label('Age, ka', 345, 732, size=13), label('Age, ka', 944, 732, size=13),
]
for t, x in (('T-I', 109), ('T-II', 554), ('T-III', 844), ('T-IV', 1017), ('T-V', 1185)):
    ann.append(label(t, x, 325, size=11, bold=True))
for t, x, y in (('1', 103, 355), ('3', 275, 360), ('5a', 373, 350), ('5c', 461, 355), ('5e', 538, 354),
                ('7a', 746, 353), ('7c', 791, 357), ('7e', 830, 361), ('9', 997, 367), ('11', 1145, 369)):
    ann.append(label(t, x, y, size=12, bold=True))
fig.update_layout(annotations=ann)

fig.write_html("out.html", config={'displayModeBar': False},
               post_script="document.body.style.margin='0px';document.body.style.overflow='hidden';")
